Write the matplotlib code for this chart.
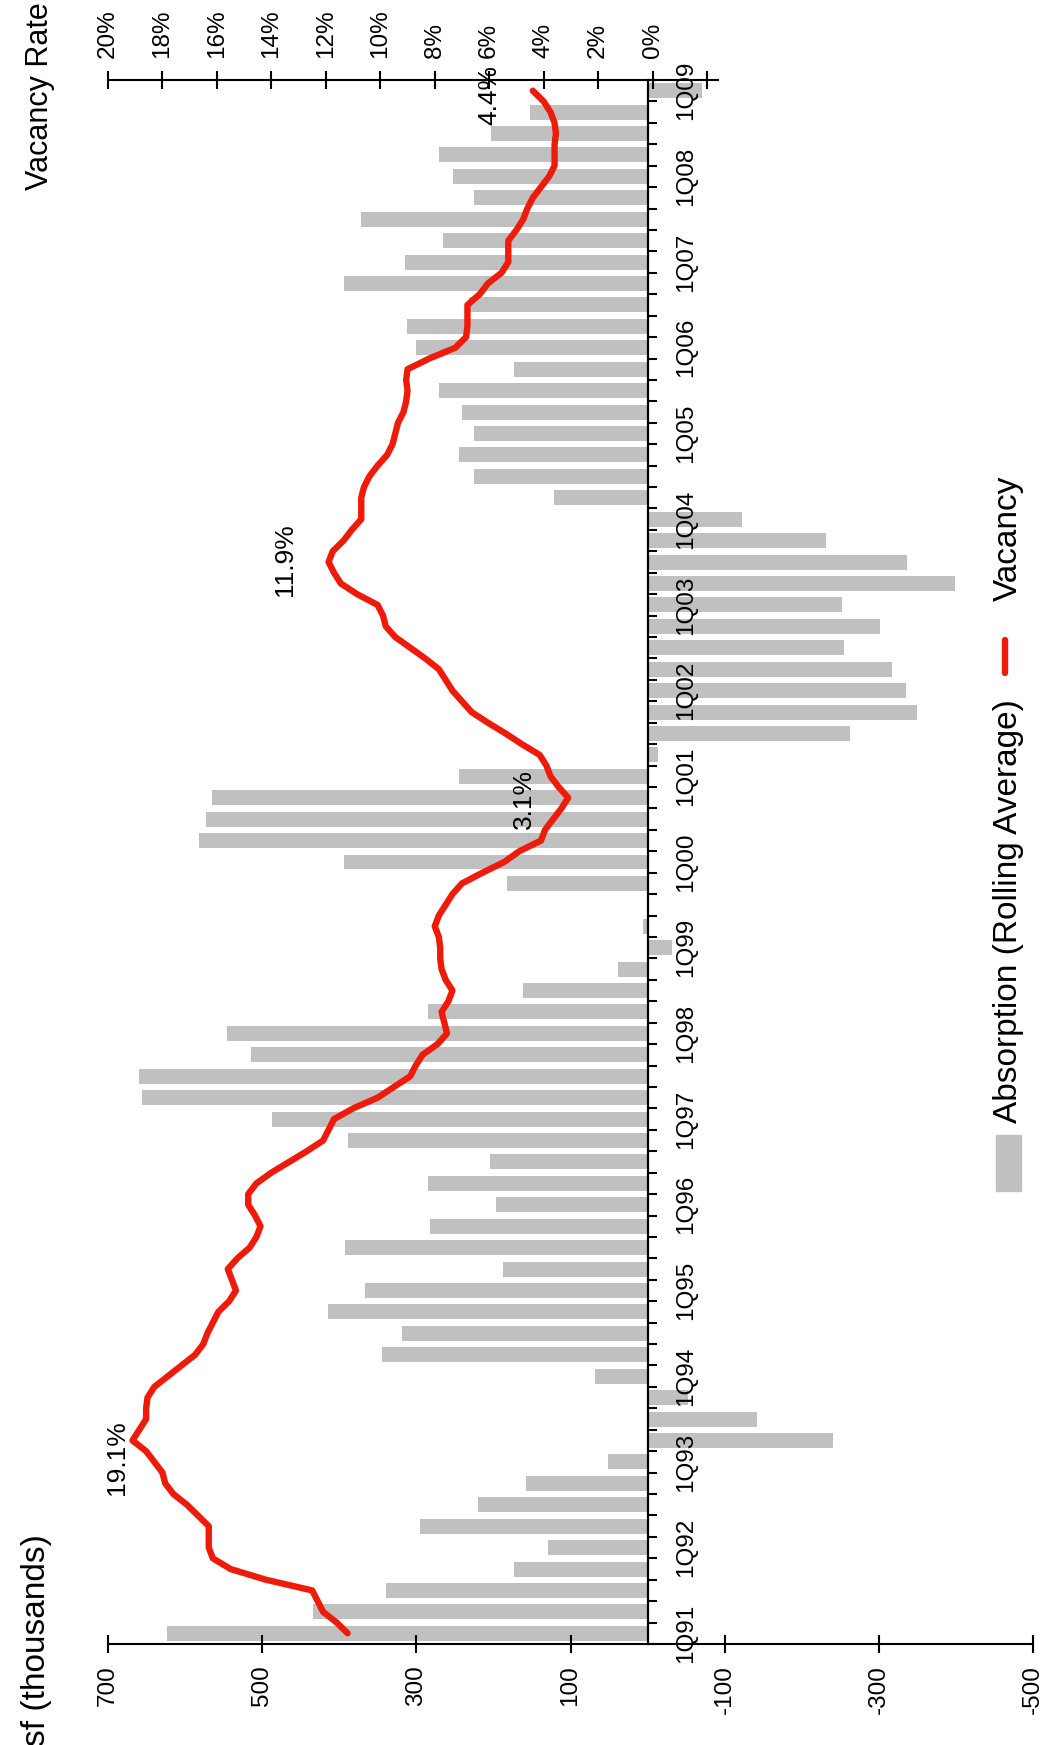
import matplotlib
matplotlib.use('Agg')
import numpy as np
import matplotlib.pyplot as plt
from matplotlib.ticker import FixedLocator
from matplotlib.lines import Line2D
from matplotlib.patches import Rectangle

plt.rcParams['font.family'] = ['Liberation Sans', 'DejaVu Sans']

# ---------------- data ----------------
years = ['91', '92', '93', '94', '95', '96', '97', '98', '99', '00',
         '01', '02', '03', '04', '05', '06', '07', '08', '09']
quarter_labels = ['1Q' + y for y in years]

# quarterly net absorption, sf (thousands), 1Q91 .. 1Q09
absorption = [624, 434, 340, 173,
              129, 295, 220, 158,
              51, -240, -142, -52,
              68, 345, 319, 415,
              366, 188, 393, 282,
              197, 285, 205, 389,
              487, 656, 660, 514,
              546, 285, 162, 39,
              -32, 6, 0, 183,
              394, 582, 573, 565,
              245, -14, -263, -350,
              -335, -317, -255, -302,
              -252, -399, -337, -231,
              -122, 121, 225, 245,
              225, 241, 271, 173,
              300, 312, 232, 394,
              315, 266, 372, 225,
              252, 271, 203, 153,
              -70]

# vacancy rate (%), rolling average, read every half quarter, 1Q91 .. 1Q09
vacancy = [11.2, 11.6, 12.1, 12.3, 12.5, 14.2, 15.5, 16.15,
           16.3, 16.3, 16.3, 16.7, 17.1, 17.6, 17.9, 18.0,
           18.3, 18.6, 19.1, 18.85, 18.6, 18.6, 18.55, 18.3,
           17.8, 17.3, 16.8, 16.5, 16.35, 16.15, 15.95, 15.55,
           15.3, 15.45, 15.6, 15.25, 14.8, 14.55, 14.4, 14.6,
           14.85, 14.85, 14.55, 14.0, 13.35, 12.7, 12.1, 11.9,
           11.7, 11.0, 10.1, 9.5, 8.9, 8.7, 8.45, 7.9,
           7.55, 7.65, 7.75, 7.5, 7.35, 7.6, 7.75, 7.8,
           7.8, 7.85, 8.0, 7.85, 7.6, 7.35, 7.0, 6.25,
           5.45, 4.9, 4.1, 3.95, 3.65, 3.35, 3.1, 3.45,
           3.75, 3.9, 4.15, 4.8, 5.4, 6.05, 6.65, 7.0,
           7.35, 7.6, 7.85, 8.35, 8.9, 9.45, 9.8, 9.9,
           10.1, 10.85, 11.45, 11.7, 11.9, 11.75, 11.35, 11.05,
           10.7, 10.7, 10.7, 10.6, 10.4, 10.1, 9.75, 9.55,
           9.45, 9.35, 9.15, 9.05, 9.0, 9.05, 9.0, 8.2,
           7.25, 6.85, 6.8, 6.8, 6.8, 6.35, 6.05, 5.55,
           5.3, 5.3, 5.3, 5.0, 4.75, 4.6, 4.4, 4.1,
           3.8, 3.6, 3.6, 3.6, 3.55, 3.6, 3.75, 4.0,
           4.4]

abs_ticks = [700, 500, 300, 100, -100, -300, -500]
vac_ticks = [20, 18, 16, 14, 12, 10, 8, 6, 4, 2, 0]
callouts = ['19.1%', '11.9%', '3.1%', '4.4%']

# ---------------- layout ----------------
W, H = 1046, 1745
fig = plt.figure(figsize=(W / 100, H / 100), dpi=100)
L, R, B, T = 108, 1033, 1644, 80
ax = fig.add_axes([L / W, 1 - B / H, (R - L) / W, (B - T) / H])

GRAY = '#C0C0C0'
RED = '#EE1B0B'
TICK_FS = 17.5

n = len(absorption)
idx = np.arange(n)
ax.barh(idx, absorption, height=0.7, color=GRAY, zorder=1)
ax.set_xlim(700, -500)
ax.set_ylim(-0.5, n - 0.5)

ax.spines['left'].set_visible(False)
ax.spines['top'].set_visible(False)
ax.spines['right'].set_position(('data', 0))
ax.spines['right'].set_linewidth(1.6)
ax.spines['bottom'].set_linewidth(1.5)

ax.yaxis.tick_right()
ax.yaxis.set_major_locator(FixedLocator(list(range(0, n, 4))))
ax.set_yticklabels(quarter_labels, rotation=90, va='center', ha='left')
ax.yaxis.set_minor_locator(FixedLocator([i - 0.5 for i in range(n + 1)]))
ax.tick_params(axis='y', which='major', length=0, pad=20, labelsize=TICK_FS)
ax.tick_params(axis='y', which='minor', direction='out', length=6.5,
               width=1.5, right=True, left=False)

ax.set_xticks(abs_ticks)
ax.set_xticklabels([str(v) for v in abs_ticks], rotation=90)
ax.tick_params(axis='x', direction='inout', length=13, width=1.5, pad=8.5,
               labelsize=TICK_FS)

# vacancy axis on top
ax2 = ax.twiny()
ax2.set_xlim(20, 20 - (R - L) / 27.23)
vac_pos = np.arange(len(vacancy)) / 2.0
ax2.plot(vacancy, vac_pos, color=RED, lw=4.6, solid_capstyle='round',
         solid_joinstyle='round', zorder=3)
for s in ['left', 'right', 'bottom']:
    ax2.spines[s].set_visible(False)
ax2.spines['top'].set_linewidth(1.5)
ax2.spines['top'].set_bounds(-2.4, 20)
ax2.set_xticks(vac_ticks + [-2])
ax2.set_xticklabels([f'{v}%' for v in vac_ticks] + [''], rotation=90)
ax2.tick_params(axis='x', direction='inout', length=13, width=1.5, pad=9.5,
                labelsize=TICK_FS)

# axis titles
fig.text(40 / W, 1 - 96 / H, 'Vacancy Rate', rotation=90, ha='center',
         va='center', fontsize=22)
fig.text(37 / W, 1 - 1640 / H, 'sf (thousands)', rotation=90, ha='center',
         va='center', fontsize=24)

# callouts
pos = [(117, 1458), (285, 560), (524, 799), (489, 95)]
for txt, (px, py) in zip(callouts, pos):
    fig.text(px / W, 1 - py / H, txt, rotation=90, ha='center', va='center',
             fontsize=19)

# legend (rotated, drawn in figure coordinates)
fig.patches.append(Rectangle((996 / W, 1 - 1191 / H), 25 / W, 56 / H,
                             transform=fig.transFigure, color=GRAY))
fig.text(1008 / W, 1 - 1123 / H, 'Absorption (Rolling Average)', rotation=90,
         ha='center', va='bottom', fontsize=24)
fig.lines.append(Line2D([1005 / W, 1005 / W], [1 - 673 / H, 1 - 640 / H],
                        transform=fig.transFigure, color=RED, lw=4.6,
                        solid_capstyle='round'))
fig.text(1008 / W, 1 - 601 / H, 'Vacancy', rotation=90, ha='center',
         va='bottom', fontsize=24)

fig.savefig('out.png', dpi=100)
